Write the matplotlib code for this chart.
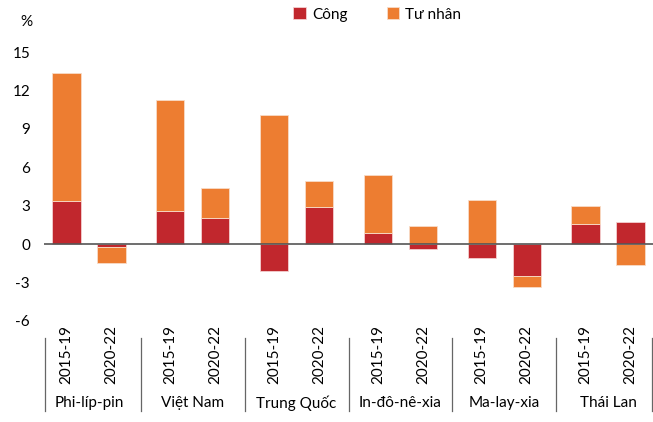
import numpy as np
import matplotlib
matplotlib.use("Agg")
import matplotlib.pyplot as plt
import matplotlib.transforms as mtransforms

plt.rcParams['font.family'] = ['Lato', 'DejaVu Sans']
plt.rcParams['font.size'] = 11

countries = ["Phi-líp-pin", "Việt Nam", "Trung Quốc", "In-đô-nê-xia", "Ma-lay-xia", "Thái Lan"]
periods = ["2015-19", "2020-22"]
# contribution values, per country: [2015-19, 2020-22]
cong = [3.4, -0.2, 2.6, 2.05, -2.1, 2.9, 0.9, -0.35, -1.1, -2.45, 1.6, 1.7]
tu_nhan = [9.95, -1.25, 8.65, 2.3, 10.05, 2.0, 4.5, 1.4, 3.45, -0.9, 1.4, -1.65]
y_ticks = [-6, -3, 0, 3, 6, 9, 12, 15]

red = "#C1272D"
orange = "#ED7D31"

fig = plt.figure(figsize=(6.53, 4.22), dpi=100)
ax = fig.add_axes([44 / 653, 1 - 321 / 422, 609 / 653, 269 / 422])

group_step = 2.31
x = np.array([g * group_step + k for g in range(len(countries)) for k in range(2)])
cong = np.array(cong)
tu_nhan = np.array(tu_nhan)

# private part stacks on the public part, going the same way as its own sign
base = np.where(np.sign(tu_nhan) == np.sign(cong), cong, 0.0)
ax.bar(x, cong, 0.63, color=red, edgecolor="#f4d0d0", linewidth=0.6, label="Công", zorder=2)
ax.bar(x, tu_nhan, 0.63, bottom=base, color=orange, edgecolor="#f8dcc8", linewidth=0.6,
       label="Tư nhân", zorder=2)
ax.axhline(0, color="#555555", linewidth=1.2, zorder=3)

ax.set_xlim(-0.5, x[-1] + 0.5)
ax.set_ylim(-6, 15)
ax.set_yticks(y_ticks)
ax.set_yticklabels([str(v) for v in y_ticks])
ax.tick_params(axis="y", length=0, pad=10)
ax.set_xticks(x)
ax.set_xticklabels(periods * len(countries), rotation=90, va="top")
ax.tick_params(axis="x", length=0, pad=3)
for s in ax.spines.values():
    s.set_visible(False)

trans = mtransforms.blended_transform_factory(ax.transData, ax.transAxes)
seps = [x[0] - 0.48] + [(x[2 * g + 1] + x[2 * g + 2]) / 2 for g in range(len(countries) - 1)] + [x[-1] + 0.48]
for sx in seps:
    ax.plot([sx, sx], [-0.063, -0.335], color="#666666", linewidth=0.9, transform=trans, clip_on=False)
for g, name in enumerate(countries):
    ax.text((x[2 * g] + x[2 * g + 1]) / 2, -0.305, name, transform=trans, ha="center", va="center")

fig.text(20 / 653, 1 - 22 / 422, "%", ha="left", va="center")
fig.legend(loc="upper center", bbox_to_anchor=(0.578, 1.015), ncol=2, frameon=False,
           handlelength=0.8, handleheight=0.8, handletextpad=0.4, columnspacing=2.6)

fig.savefig("out.png", dpi=100)
